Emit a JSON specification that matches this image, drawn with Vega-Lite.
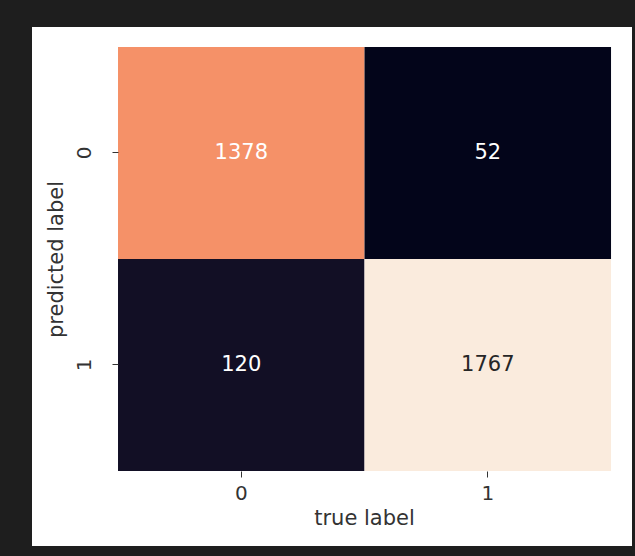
{
  "$schema": "https://vega.github.io/schema/vega-lite/v6.json",
  "width": 600,
  "height": 519,
  "autosize": {"type": "none"},
  "padding": {"left": 32, "top": 27, "right": 3, "bottom": 10},
  "background": "#1e1e1e",
  "config": {
    "view": {"fill": "white", "stroke": null},
    "font": "DejaVu Sans",
    "axis": {
      "domain": false,
      "grid": false,
      "tickSize": 6,
      "tickColor": "#333333",
      "labelColor": "#333333",
      "titleColor": "#333333",
      "labelFont": "DejaVu Sans",
      "titleFont": "DejaVu Sans",
      "labelFontSize": 20,
      "titleFontSize": 21,
      "titleFontWeight": "normal"
    }
  },
  "data": {
    "values": [
      {"true": "0", "pred": "0", "count": 1378},
      {"true": "1", "pred": "0", "count": 52},
      {"true": "0", "pred": "1", "count": 120},
      {"true": "1", "pred": "1", "count": 1767}
    ]
  },
  "encoding": {
    "x": {
      "field": "true",
      "type": "nominal",
      "scale": {"type": "band", "paddingInner": 0, "paddingOuter": 0.217, "align": 0.804},
      "axis": {"title": "true label", "labelAngle": 0, "offset": -75, "labelPadding": 6, "titlePadding": 4, "titleX": 332}
    },
    "y": {
      "field": "pred",
      "type": "nominal",
      "scale": {"type": "band", "paddingInner": 0, "paddingOuter": 0.224, "align": 0.21},
      "axis": {"title": "predicted label", "labelAngle": -90, "labelAlign": "center", "labelBaseline": "bottom", "offset": -86, "labelPadding": 18, "titlePadding": 8, "titleY": 232}
    }
  },
  "layer": [
    {
      "mark": {"type": "rect"},
      "encoding": {
        "color": {
          "field": "count",
          "type": "quantitative",
          "legend": null,
          "scale": {
            "domain": [52, 297, 542, 787, 1032, 1277, 1522, 1767],
            "range": ["#03051a", "#35193e", "#701f57", "#ad1759", "#e13342", "#f37651", "#f6b48f", "#faebdd"]
          }
        }
      }
    },
    {
      "mark": {"type": "text", "font": "DejaVu Sans", "fontSize": 21},
      "encoding": {
        "text": {"field": "count", "type": "quantitative"},
        "color": {
          "condition": {"test": "datum.count > 1500", "value": "#262626"},
          "value": "#ffffff"
        }
      }
    }
  ]
}
